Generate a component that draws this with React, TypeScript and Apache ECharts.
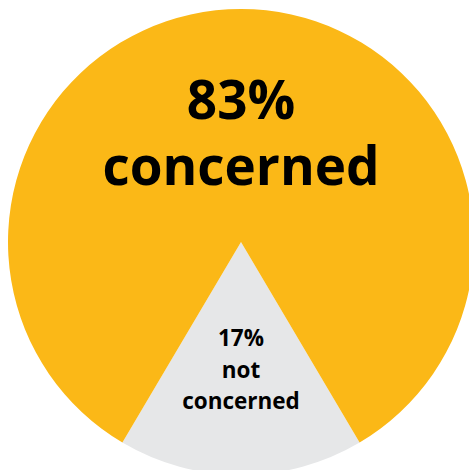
import React, { useEffect, useRef } from "react";
import * as echarts from "echarts";

const categories = ["not concerned", "concerned"];
const values = [17, 83];
const colors = ["#E6E7E8", "#FBB817"];

export default function App() {
  const ref = useRef<HTMLDivElement>(null);
  useEffect(() => {
    if (!ref.current) return;
    const chart = echarts.init(ref.current, undefined, { renderer: "svg" });
    const total = values.reduce((a, b) => a + b, 0);
    const halfSmall = (values[0] / total) * 180;
    const label = (i: number) => {
      const words = categories[i].split(" ");
      return [`${values[i]}%`, ...(words.length > 1 ? words : [categories[i]])];
    };
    const font = "'Open Sans', Lato, sans-serif";
    chart.setOption({
      animation: false,
      series: [
        {
          type: "pie",
          center: [241, 242],
          radius: [0, 233],
          startAngle: 270 + halfSmall,
          clockwise: true,
          label: { show: false },
          labelLine: { show: false },
          silent: true,
          data: values.map((v, i) => ({
            name: categories[i],
            value: v,
            itemStyle: { color: colors[i] },
          })),
        },
      ],
      graphic: [
        {
          type: "text",
          x: 241,
          y: 131,
          z: 100,
          style: {
            text: `${values[1]}%\n${categories[1]}`,
            fontSize: 53,
            fontWeight: "bold",
            fontFamily: font,
            lineHeight: 66,
            align: "center",
            verticalAlign: "middle",
            fill: "#000",
          },
        },
        {
          type: "text",
          x: 241,
          y: 369,
          z: 100,
          style: {
            text: label(0).join("\n"),
            fontSize: 22.5,
            fontWeight: "bold",
            fontFamily: font,
            lineHeight: 31.5,
            align: "center",
            verticalAlign: "middle",
            fill: "#000",
          },
        },
      ],
    });
    return () => chart.dispose();
  }, []);
  return (
    <div
      ref={ref}
      style={{ position: "fixed", left: 0, top: 0, width: 469, height: 470, background: "#fff" }}
    />
  );
}
